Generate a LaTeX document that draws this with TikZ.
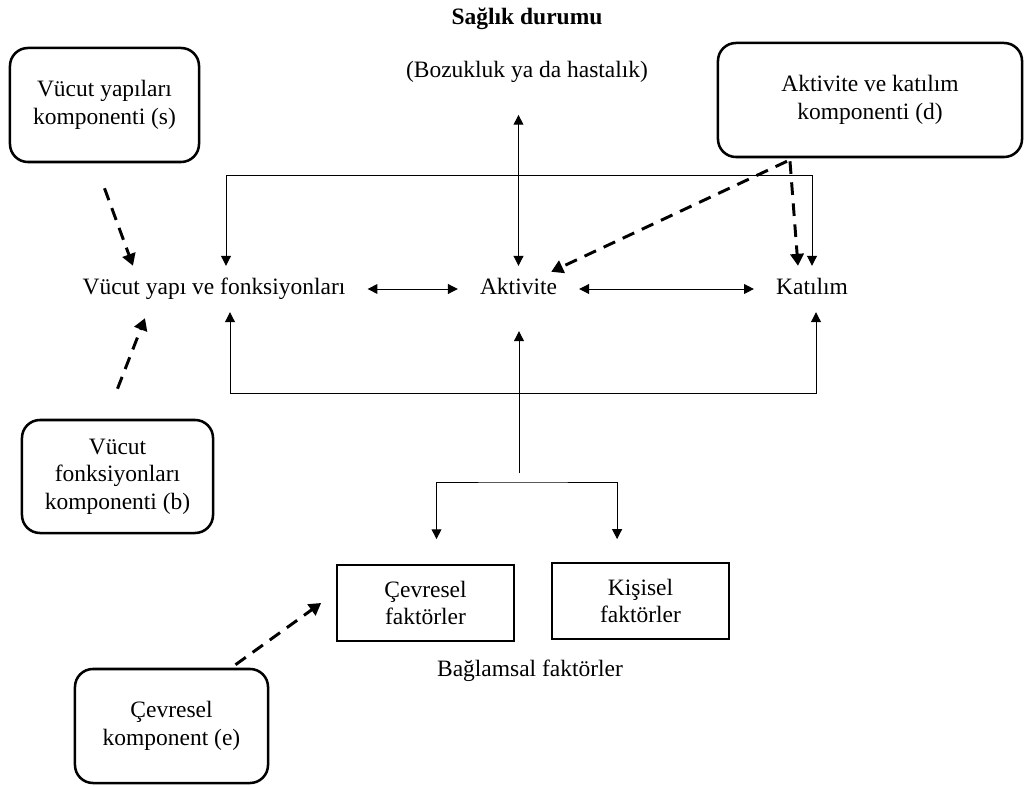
\documentclass[tikz,border=0pt]{standalone}
\usepackage{fontspec}
\setmainfont{Liberation Serif}
\usetikzlibrary{arrows.meta}

\begin{document}
\begin{tikzpicture}[
    x=0.025cm, y=-0.025cm,
    font=\fontsize{16.7pt}{19.6pt}\selectfont,
    txt/.style={inner xsep=15.6pt, inner ysep=11.8pt, text height=0.85em, text depth=0.05em},
    compbox/.style={draw, line width=1.8pt, rounded corners=0.45cm, align=center, minimum width=4.75cm, minimum height=2.85cm},
    factorbox/.style={draw, line width=1.2pt, align=center, minimum width=4.425cm, minimum height=1.9cm},
    arr/.style={-{Triangle[width=7pt,length=7pt]}, line width=0.7pt},
    biarr/.style={{Triangle[width=7pt,length=7pt]}-{Triangle[width=7pt,length=7pt]}, line width=0.7pt},
    dasharr/.style={-{Triangle[width=9.5pt,length=8.5pt]}, line width=2.1pt, dash pattern=on 9pt off 6pt}
]
\useasboundingbox (0,0) rectangle (1031,786);

\node (title) at (527,19) {\bfseries Sağlık durumu};
\node[txt] (health) at (527,72) {(Bozukluk ya da hastalık)};
\node[txt] (vyf) at (214,289) {Vücut yapı ve fonksiyonları};
\node[txt] (akt) at (518.5,289) {Aktivite};
\node[txt] (kat) at (812,289) {Katılım};

\node[compbox, minimum width=4.725cm] (sbox) at (104.5,105) {Vücut yapıları\\komponenti (s)};
\node[compbox, minimum width=7.6cm] (dbox) at (870,100) {Aktivite ve katılım\\komponenti (d)};
\node[compbox, minimum width=4.775cm, minimum height=2.825cm] (bbox) at (117.5,476.5) {Vücut\\fonksiyonları\\komponenti (b)};
\node[compbox, minimum width=4.825cm] (ebox) at (171.5,726) {Çevresel\\komponent (e)};

\node[factorbox] (cf) at (425.5,603) {Çevresel\\faktörler};
\node[factorbox] (kf) at (640.5,601) {Kişisel\\faktörler};
\node (ctx) at (530,671) {Bağlamsal faktörler};
\coordinate (split) at (519,482);

\draw[biarr] (vyf.east) -- (akt.west);
\draw[biarr] (akt.east) -- (kat.west);
\draw[biarr, shorten >=14pt] (akt.north) -- (akt.north |- health.south);
\draw[biarr] ([xshift=0.3cm]vyf.north) -- ++(0,-90) -| (kat.north);
\draw[biarr] ([xshift=0.4cm]vyf.south) -- ++(0,81) -| ([xshift=0.1cm]kat.south);
\draw[arr, shorten <=6.4pt, shorten >=13.5pt] (split) -- (split |- akt.south);
\draw[biarr, shorten <=17.8pt, shorten >=16.4pt] ([xshift=0.275cm]cf.north) |- (split) -| ([xshift=-0.585cm]kf.north);

\draw[dasharr] ([yshift=-0.625cm]sbox.south) -- ([xshift=-2.025cm]vyf.north);
\draw[dasharr] ([yshift=0.75cm]bbox.north) -- ([xshift=-1.725cm,yshift=-0.15cm]vyf.south);
\draw[dasharr] ([xshift=-2.075cm,yshift=-0.075cm]dbox.south) -- ([xshift=-0.7cm,yshift=-0.15cm]akt.north east);
\draw[dasharr] ([xshift=-2cm,yshift=-0.075cm]dbox.south) -- ([xshift=-0.35cm]kat.north);
\draw[dasharr] ([xshift=1.6cm,yshift=0.075cm]ebox.north) -- ([xshift=-0.375cm]cf.west);
\end{tikzpicture}
\end{document}
